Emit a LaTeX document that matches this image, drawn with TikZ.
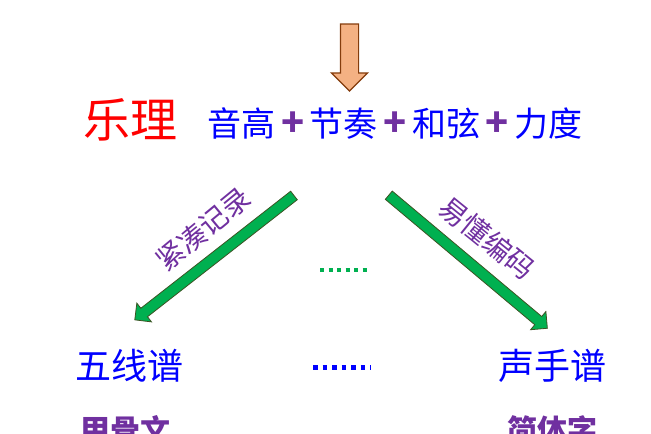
\documentclass[tikz,border=0pt]{standalone}
\usepackage{fontspec}
\setmainfont{Noto Sans CJK SC}
\usepackage{tikz}
\usetikzlibrary{shapes.arrows}
\definecolor{notepurple}{HTML}{7030A0}
\definecolor{arrowgreen}{HTML}{00B050}
\definecolor{arrowolive}{HTML}{3B5323}
\definecolor{arrowtan}{HTML}{F4B183}
\definecolor{arrowbrown}{HTML}{843C0C}
\tikzstyle{theory}=[text=red,
inner sep=0pt,
font=\fontsize{47}{50}\selectfont]
\tikzstyle{element}=[text=blue,
inner sep=0pt,
font=\fontsize{34}{38}\selectfont]
\tikzstyle{notation}=[text=blue,
inner sep=0pt,
font=\fontsize{36}{40}\selectfont]
\tikzstyle{script}=[text=notepurple,
inner sep=0pt,
font=\bfseries\fontsize{30}{34}\selectfont]
\tikzstyle{arrowlabel}=[text=notepurple,
inner sep=0pt,
font=\fontsize{28}{32}\selectfont]
\tikzstyle{downarrow}=[single arrow,
draw=arrowbrown,
fill=arrowtan,
line width=1.2pt,
inner xsep=0pt,
inner ysep=8.5pt,
single arrow head extend=9pt,
minimum height=67pt]
\tikzstyle{greenarrow}=[single arrow,
draw=arrowolive,
fill=arrowgreen,
line width=0.8pt,
inner xsep=0pt,
inner ysep=5pt,
single arrow head extend=6.5pt]
\tikzstyle{greendots}=[draw=arrowgreen,
line width=4pt,
dash pattern=on 4pt off 4.5pt]
\tikzstyle{bluedots}=[draw=blue,
line width=5pt,
dash pattern=on 4.5pt off 5pt]
\newcommand{\plussign}{\hspace{5.5pt}\textcolor{notepurple}{\bfseries\fontsize{38}{40}\selectfont +}\hspace{5.5pt}}

\begin{document}
\begin{tikzpicture}[x=1pt,y=1pt]
	\useasboundingbox (0,0) rectangle (651,434);
	\clip (0,0) rectangle (651,434);
	
	% Arrow coming down into the music theory line
	\node (down) [downarrow,rotate=-90] at (349.5,381) {};
	
	% Music theory and its four elements
	\node (yueli) [theory] at (130,314) {乐理};
	\node (elements) [element] at (395,310)
	{音高\plussign 节奏\plussign 和弦\plussign 力度};
	
	% The two ways of writing it down
	\node (left) [greenarrow,minimum height=202pt,rotate=218]
	at (216.5,178) {};
	\node (right) [greenarrow,minimum height=207pt,rotate=-40]
	at (466,174) {};
	\node (compact) [arrowlabel,rotate=39.5] at (203,205) {紧凑记录};
	\node (easy) [arrowlabel,rotate=-39] at (487,196) {易懂编码};
	\coordinate (gdots-l) at (320,164);
	\coordinate (gdots-r) at (367,164);
	\path (gdots-l) edge[greendots] (gdots-r);
	
	% Staff notation and numbered notation
	\node (wuxianpu) [notation] at (129,68) {五线谱};
	\node (shengshoupu) [notation] at (552,68) {声手谱};
	\coordinate (bdots-l) at (313,66);
	\coordinate (bdots-r) at (371,66);
	\path (bdots-l) edge[bluedots] (bdots-r);
	
	% Script comparison, cut by the lower edge
	\node (jiagu) [script] at (125,4) {甲骨文};
	\node (jianti) [script] at (552,4) {简体字};
\end{tikzpicture}
\end{document}
